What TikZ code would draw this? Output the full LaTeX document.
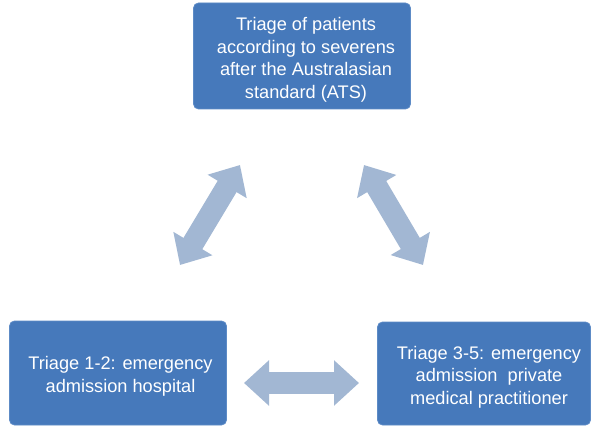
\documentclass[tikz,border=0pt]{standalone}
\usepackage{fontspec}
\setmainfont{Liberation Sans}
\usetikzlibrary{arrows.meta}
\definecolor{boxblue}{HTML}{4679BB}
\definecolor{boxedge}{HTML}{5D8BC6}
\definecolor{arrowblue}{HTML}{A2B7D3}
\tikzset{
  stage/.style={rectangle, rounded corners=5pt, fill=boxblue, draw=boxedge, line width=0.8pt,
    inner sep=0pt},
  caption/.style={text=white, align=center, font=\fontsize{18.2}{22.6}\selectfont, inner sep=0pt},
  link/.style={draw=arrowblue, line width=22pt,
    {Triangle[width=44pt,length=25pt]}-{Triangle[width=44pt,length=25pt]}},
}
\begin{document}
\begin{tikzpicture}[x=1pt,y=-1pt]
  \useasboundingbox (0,0) rectangle (591,427);
  % three care stages
  \node[stage, minimum width=217pt, minimum height=106pt] (ats) at (302,56) {};
  \node[stage, minimum width=217pt, minimum height=104pt] (hosp) at (118,373) {};
  \node[stage, minimum width=213pt, minimum height=103pt] (gp) at (484,373.5) {};
  % their texts
  \node[caption] (ats-t) at (306,59.6)
    {Triage of patients\\according to severens\\after the Australasian\\standard (ATS)};
  \node[caption] (hosp-t) at (120.5,376.1)
    {Triage 1-2: emergency\\admission hospital};
  \node[caption] (gp-t) at (489,376.9)
    {Triage 3-5: emergency\\admission\ \ private\\medical practitioner};
  % arrow end points
  \coordinate (a1) at (240,165);
  \coordinate (a2) at (180,265);
  \coordinate (b1) at (364,165);
  \coordinate (b2) at (423,265);
  \coordinate (c1) at (244,383);
  \coordinate (c2) at (359,383);
  % two-way links
  \draw[link] (a1) -- (a2);
  \draw[link] (b1) -- (b2);
  \draw[link] (c1) -- (c2);
\end{tikzpicture}
\end{document}
